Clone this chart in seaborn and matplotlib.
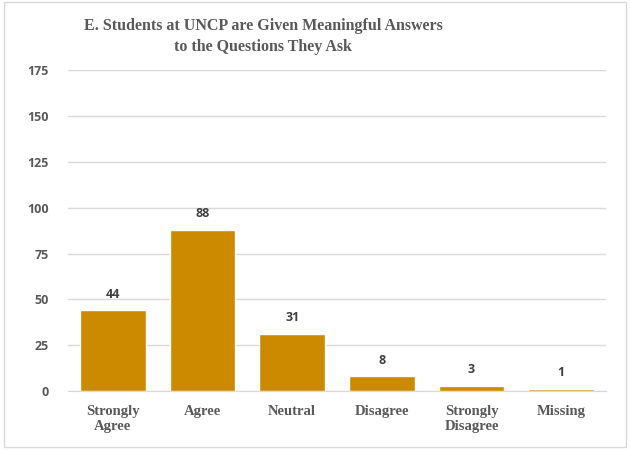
import pandas as pd
import matplotlib.pyplot as plt
import seaborn as sns

categories = ["Strongly\nAgree", "Agree", "Neutral", "Disagree", "Strongly\nDisagree", "Missing"]
counts = [44, 88, 31, 8, 3, 1]
yticks = [0, 25, 50, 75, 100, 125, 150, 175]

df = pd.DataFrame({"response": categories, "count": counts})

sns.set_style("white")
text_col = "#595959"
bar_col = "#CC8A00"

fig = plt.figure(figsize=(6.3, 4.5), dpi=100)
ax = fig.add_axes([0.108, 0.131, 0.854, 0.713])

sns.barplot(data=df, x="response", y="count", color=bar_col, width=0.73,
            saturation=1, ax=ax, zorder=2)

ax.set_ylim(0, 175)
ax.set_yticks(yticks)
ax.yaxis.grid(True, color="#D9D9D9", linewidth=1, zorder=0)
ax.set_axisbelow(True)
for s in ["top", "right", "left"]:
    ax.spines[s].set_visible(False)
ax.spines["bottom"].set_color("#D9D9D9")
ax.tick_params(length=0)
ax.set_xlabel("")
ax.set_ylabel("")

for lab in ax.get_yticklabels():
    lab.set_fontfamily("Open Sans")
    lab.set_fontweight("bold")
    lab.set_fontsize(9)
    lab.set_color(text_col)
ax.tick_params(axis="y", pad=14)
for lab in ax.get_xticklabels():
    lab.set_fontfamily("Liberation Serif")
    lab.set_fontweight("bold")
    lab.set_fontsize(10.5)
    lab.set_color(text_col)
ax.tick_params(axis="x", pad=10)

for cont in ax.containers:
    ax.bar_label(cont, padding=7, fontsize=9, fontweight="bold",
                 color="#404040", family="Open Sans")

fig.text(0.418, 0.96, "E. Students at UNCP are Given Meaningful Answers\nto the Questions They Ask",
         ha="center", va="top", fontsize=11.5, fontweight="bold", family="Liberation Serif",
         color=text_col, linespacing=1.45)

border = plt.Rectangle((0.006, 0.006), 0.988, 0.99, transform=fig.transFigure,
                       fill=False, edgecolor="#D9D9D9", linewidth=1)
fig.patches.append(border)

fig.savefig("out.png", dpi=100)
